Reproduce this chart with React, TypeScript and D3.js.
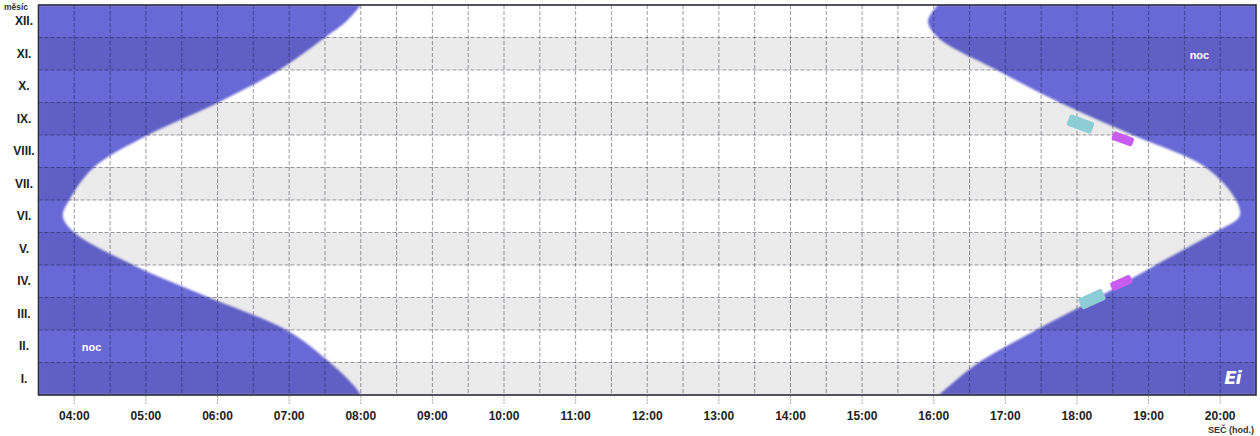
import React from "react";
import * as d3 from "d3";

// ---- data ----
const monthLabels = ["I.", "II.", "III.", "IV.", "V.", "VI.", "VII.", "VIII.", "IX.", "X.", "XI.", "XII."];
const hourTicks = [4, 5, 6, 7, 8, 9, 10, 11, 12, 13, 14, 15, 16, 17, 18, 19, 20];
const hourTickLabels = ["04:00", "05:00", "06:00", "07:00", "08:00", "09:00", "10:00", "11:00", "12:00", "13:00", "14:00", "15:00", "16:00", "17:00", "18:00", "19:00", "20:00"];
// month position: 0 = 1 Jan (bottom), 12 = 31 Dec (top)
const monthPos = [0, 0.25, 1, 2, 3, 4, 5, 5.5, 6, 7, 8, 9, 10, 11, 11.5, 12];
const sunrise = [8.0, 7.92, 7.57, 6.96, 5.88, 4.82, 4.0, 3.84, 3.93, 4.27, 5.03, 6.01, 6.86, 7.5, 7.8, 8.0];
const sunset = [16.07, 16.2, 16.63, 17.43, 18.29, 19.1, 19.92, 20.27, 20.22, 19.8, 18.78, 17.76, 16.88, 16.06, 15.92, 16.06];
const markerMonth = [8.34, 7.88, 2.95, 3.45];
const markerHour = [18.05, 18.64, 18.21, 18.62];
const markerKind = ["cyan", "magenta", "cyan", "magenta"];
const nightLabelMonth = [1.48, 10.46];
const nightLabelHour = [4.24, 19.71];

const W = 1260, H = 436;
const L = 38.5, R = 1256, T = 5, B = 395;

export default function App() {
  const x = d3.scaleLinear().domain([3.5, 20.5]).range([L, R]);
  const y = d3.scaleLinear().domain([0, 12]).range([B, T]);
  const pts = monthPos.map((m, i) => ({ m, r: sunrise[i], s: sunset[i] }));

  const leftArea = d3.area<any>()
    .y((d) => y(d.m)).x0(() => x(3.5)).x1((d) => x(d.r))
    .curve(d3.curveCatmullRom.alpha(0.5))(pts) || "";
  const rightArea = d3.area<any>()
    .y((d) => y(d.m)).x0((d) => x(d.s)).x1(() => x(20.5))
    .curve(d3.curveCatmullRom.alpha(0.5))(pts) || "";

  const halfHours = d3.range(4, 20.5, 0.5);
  const monthLines = d3.range(1, 12, 1);
  const markerStyle: Record<string, { fill: string; w: number; h: number }> = {
    cyan: { fill: "#8ccdd6", w: 26, h: 12 },
    magenta: { fill: "#c85cf0", w: 22, h: 9 },
  };
  const font = "'Liberation Sans', Arial, sans-serif";

  return (
    <svg width={W} height={H} style={{ position: "absolute", left: 0, top: 0, background: "#fff" }} fontFamily={font}>
      <defs>
        <clipPath id="plot"><rect x={L} y={T} width={R - L} height={B - T} /></clipPath>
        <filter id="soft" x="-5%" y="-5%" width="110%" height="110%">
          <feGaussianBlur stdDeviation="0.9" />
        </filter>
      </defs>
      <rect x={L} y={T} width={R - L} height={B - T} fill="#fff" />
      <g clipPath="url(#plot)">
        <path d={leftArea} fill="#6767d7" filter="url(#soft)" />
        <path d={rightArea} fill="#6767d7" filter="url(#soft)" />
        {monthLabels.map((_, i) => (i % 2 === 0 ? (
          <rect key={i} x={L} y={y(i + 1)} width={R - L} height={y(i) - y(i + 1)} fill="#000" opacity={0.08} />
        ) : null))}
        {halfHours.map((h) => (
          <line key={"v" + h} x1={x(h)} x2={x(h)} y1={T} y2={B} stroke="rgba(20,20,40,0.42)" strokeWidth={1} strokeDasharray="4 2" />
        ))}
        {monthLines.map((m) => (
          <line key={"h" + m} x1={L} x2={R} y1={y(m)} y2={y(m)} stroke="rgba(20,20,40,0.42)" strokeWidth={1} strokeDasharray="4 2" />
        ))}
        {markerMonth.map((m, i) => {
          const st = markerStyle[markerKind[i]];
          const ang = m > 6 ? 20 : -24;
          const cx = x(markerHour[i]), cy = y(m);
          return (
            <rect key={"mk" + i} x={cx - st.w / 2} y={cy - st.h / 2} width={st.w} height={st.h} rx={2.5}
              fill={st.fill} transform={`rotate(${ang} ${cx} ${cy})`} />
          );
        })}
        {nightLabelMonth.map((m, i) => (
          <text key={"n" + i} x={x(nightLabelHour[i])} y={y(m)} dy="0.35em" textAnchor="middle" fill="#fff"
            fontSize={11} fontWeight="bold">noc</text>
        ))}
        <text x={x(20.17)} y={y(0.52)} dy="0.35em" textAnchor="middle" fill="#fff" fontSize={18}
          fontWeight="900" fontStyle="italic" letterSpacing={-1} fontFamily="'DejaVu Sans', sans-serif">Ei</text>
      </g>
      <rect x={L} y={T} width={R - L} height={B - T} fill="none" stroke="#2a2a3a" strokeWidth={1.6} />
      {/* y axis labels */}
      {monthLabels.map((lab, i) => (
        <text key={lab} x={24} y={y(i + 0.5)} dy="0.35em" textAnchor="middle" fontSize={12} fontWeight="bold" fill="#222">{lab}</text>
      ))}
      <text x={4} y={10} fontSize={8.5} fontWeight="bold" fill="#333">měsíc</text>
      {/* x axis ticks */}
      {hourTicks.map((h, i) => (
        <g key={"t" + h}>
          <line x1={x(h)} x2={x(h)} y1={B + 1} y2={B + 10} stroke="#aaa" strokeWidth={1} strokeDasharray="2 1" />
          <text x={x(h)} y={420} textAnchor="middle" fontSize={12} fontWeight="bold" fill="#222">{hourTickLabels[i]}</text>
        </g>
      ))}
      <text x={1254} y={433} textAnchor="end" fontSize={9} fontWeight="bold" fill="#333">SEČ (hod.)</text>
    </svg>
  );
}
